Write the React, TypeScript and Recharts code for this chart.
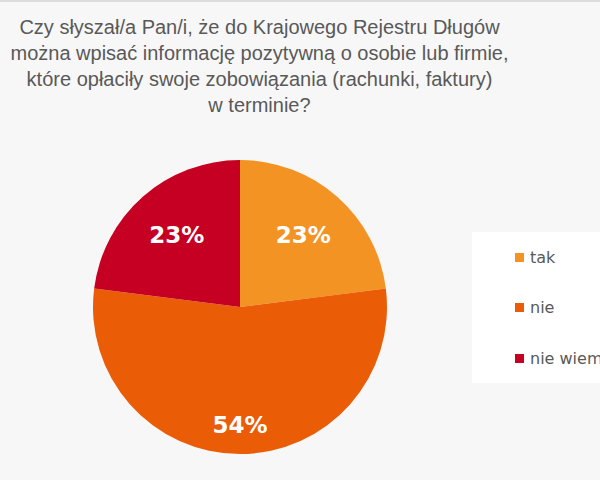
import { PieChart, Pie, Cell, Legend } from 'recharts';

const titleLines = [
  'Czy słyszał/a Pan/i, że do Krajowego Rejestru Długów',
  'można wpisać informację pozytywną o osobie lub firmie,',
  'które opłaciły swoje zobowiązania (rachunki, faktury)',
  'w terminie?',
];

const categories = ['tak', 'nie', 'nie wiem'];
const values = [23, 54, 23];
const colors = ['#F39324', '#EB5C07', '#C60022'];

const data = categories.map((name, i) => ({ name, value: values[i] }));

const RAD = Math.PI / 180;

// big slice gets its label pushed further out, like the original
const renderLabel = (props: any) => {
  const { cx, cy, midAngle, outerRadius, value, percent } = props;
  const r = outerRadius * (percent > 0.5 ? 0.8 : 0.65);
  const x = cx + r * Math.cos(-midAngle * RAD);
  const y = cy + r * Math.sin(-midAngle * RAD);
  return (
    <text
      x={x}
      y={y}
      fill="#FFFFFF"
      textAnchor="middle"
      dominantBaseline="central"
      fontFamily="DejaVu Sans"
      fontWeight="bold"
      fontSize={23}
    >
      {`${value}%`}
    </text>
  );
};

const renderLegend = () => (
  <div style={{ background: '#FFFFFF', width: 128, height: 151, position: 'relative' }}>
    {categories.map((name, i) => (
      <div
        key={name}
        style={{
          position: 'absolute',
          left: 43,
          top: 25 + i * 50.5 - 10,
          height: 20,
          display: 'flex',
          alignItems: 'center',
          whiteSpace: 'nowrap',
          fontFamily: 'DejaVu Sans',
          fontSize: 16,
          color: '#595959',
        }}
      >
        <span style={{ display: 'inline-block', width: 9, height: 9, background: colors[i], marginRight: 6 }} />
        {name}
      </div>
    ))}
  </div>
);

export default function App() {
  return (
    <div style={{ position: 'relative', width: 600, height: 480, overflow: 'hidden', background: '#F7F7F7' }}>
      <style>{'body{margin:0}'}</style>
      <div style={{ position: 'absolute', left: 0, top: 0, width: 600, height: 2, background: '#DDDDDD' }} />
      <div
        style={{
          position: 'absolute',
          left: 0,
          top: 14,
          width: 519,
          textAlign: 'center',
          fontFamily: '"Liberation Sans", Arial, sans-serif',
          fontSize: 20,
          lineHeight: '26px',
          color: '#595959',
          whiteSpace: 'nowrap',
        }}
      >
        {titleLines.map((l) => (
          <div key={l}>{l}</div>
        ))}
      </div>
      <PieChart
        width={600}
        height={480}
        margin={{ top: 0, right: 0, bottom: 0, left: 0 }}
        style={{ position: 'absolute', left: 0, top: 0 }}
      >
        <Pie
          data={data}
          dataKey="value"
          nameKey="name"
          cx={240}
          cy={307}
          outerRadius={147}
          startAngle={90}
          endAngle={-270}
          stroke="none"
          label={renderLabel}
          labelLine={false}
          isAnimationActive={false}
        >
          {data.map((d, i) => (
            <Cell key={d.name} fill={colors[i]} />
          ))}
        </Pie>
        <Legend
          content={renderLegend}
          wrapperStyle={{ position: 'absolute', left: 472, top: 232, width: 128, height: 151 }}
        />
      </PieChart>
    </div>
  );
}
